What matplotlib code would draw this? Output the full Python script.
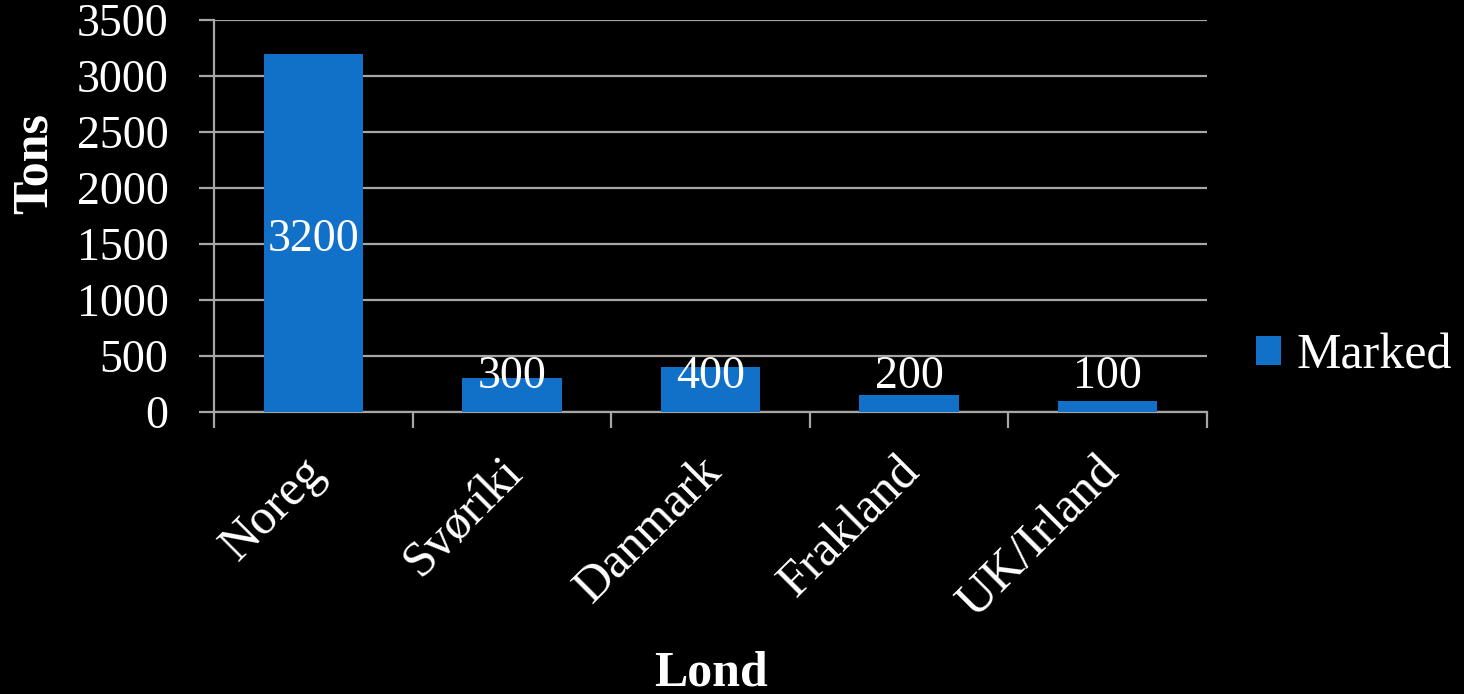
import matplotlib
matplotlib.use("Agg")
import matplotlib.pyplot as plt
from matplotlib.transforms import ScaledTranslation

categories = ["Noreg", "Svøríki", "Danmark", "Frakland", "UK/Irland"]
values = [3200, 300, 400, 150, 100]
value_labels = ["3200", "300", "400", "200", "100"]
yticks = [0, 500, 1000, 1500, 2000, 2500, 3000, 3500]
series_name = "Marked"

BAR = "#1170C8"
GRID = "#A6A6A6"
FONT = "Liberation Serif"
FS = 33
FS_BIG = 36

plt.rcParams["font.family"] = [FONT, "DejaVu Serif"]

W, H = 1464, 694
fig = plt.figure(figsize=(W / 100, H / 100), dpi=100, facecolor="black")
ax = fig.add_axes([214 / W, 1 - 412 / H, (1207 - 214) / W, (412 - 20) / H])
ax.set_facecolor("black")

x = list(range(len(categories)))
ax.bar(x, values, width=0.5, color=BAR, zorder=3, label=series_name)

ax.set_xlim(-0.5, len(categories) - 0.5)
ax.set_ylim(0, 3500)
ax.set_yticks(yticks)
ax.set_yticklabels([str(t) for t in yticks])
ax.yaxis.grid(True, color=GRID, linewidth=1.6, zorder=0)

for s in ["top", "right"]:
    ax.spines[s].set_visible(False)
for s in ["left", "bottom"]:
    ax.spines[s].set_color(GRID)
    ax.spines[s].set_linewidth(1.6)

ax.tick_params(axis="y", colors=GRID, length=10.8, width=1.6, pad=22,
               labelcolor="white", labelsize=FS)
ax.set_xticks(x)
ax.set_xticklabels(categories, rotation=45, ha="right", va="center",
                   rotation_mode="anchor", color="white", fontsize=FS_BIG)
ax.tick_params(axis="x", which="major", length=0, pad=38)
ax.set_xticks([i - 0.5 for i in range(len(categories) + 1)], minor=True)
ax.tick_params(axis="x", which="minor", length=11.5, width=1.6, colors=GRID)
off = ScaledTranslation(0.04, 0, fig.dpi_scale_trans)
for lab in ax.get_xticklabels():
    lab.set_transform(lab.get_transform() + off)

for xi, v, lab in zip(x, values, value_labels):
    ypos = v * 0.48 if v > 1000 else 315
    ax.text(xi, ypos, lab, ha="center", va="center", color="white",
            fontsize=FS, zorder=4)

fig.text(35 / W, 1 - 163 / H, "Tons", rotation=90, ha="center", va="center",
         color="white", fontsize=FS_BIG, fontweight="bold")
fig.text(711 / W, 1 - 673 / H, "Lond", ha="center", va="center",
         color="white", fontsize=FS_BIG, fontweight="bold")

leg = fig.legend(loc="center left", bbox_to_anchor=(1256 / W, 1 - 356 / H),
                 frameon=False, fontsize=FS_BIG, handlelength=0.5,
                 handleheight=0.53, handletextpad=0.3, borderpad=0,
                 borderaxespad=0)
for t in leg.get_texts():
    t.set_color("white")

fig.savefig("out.png", dpi=100, facecolor="black")
